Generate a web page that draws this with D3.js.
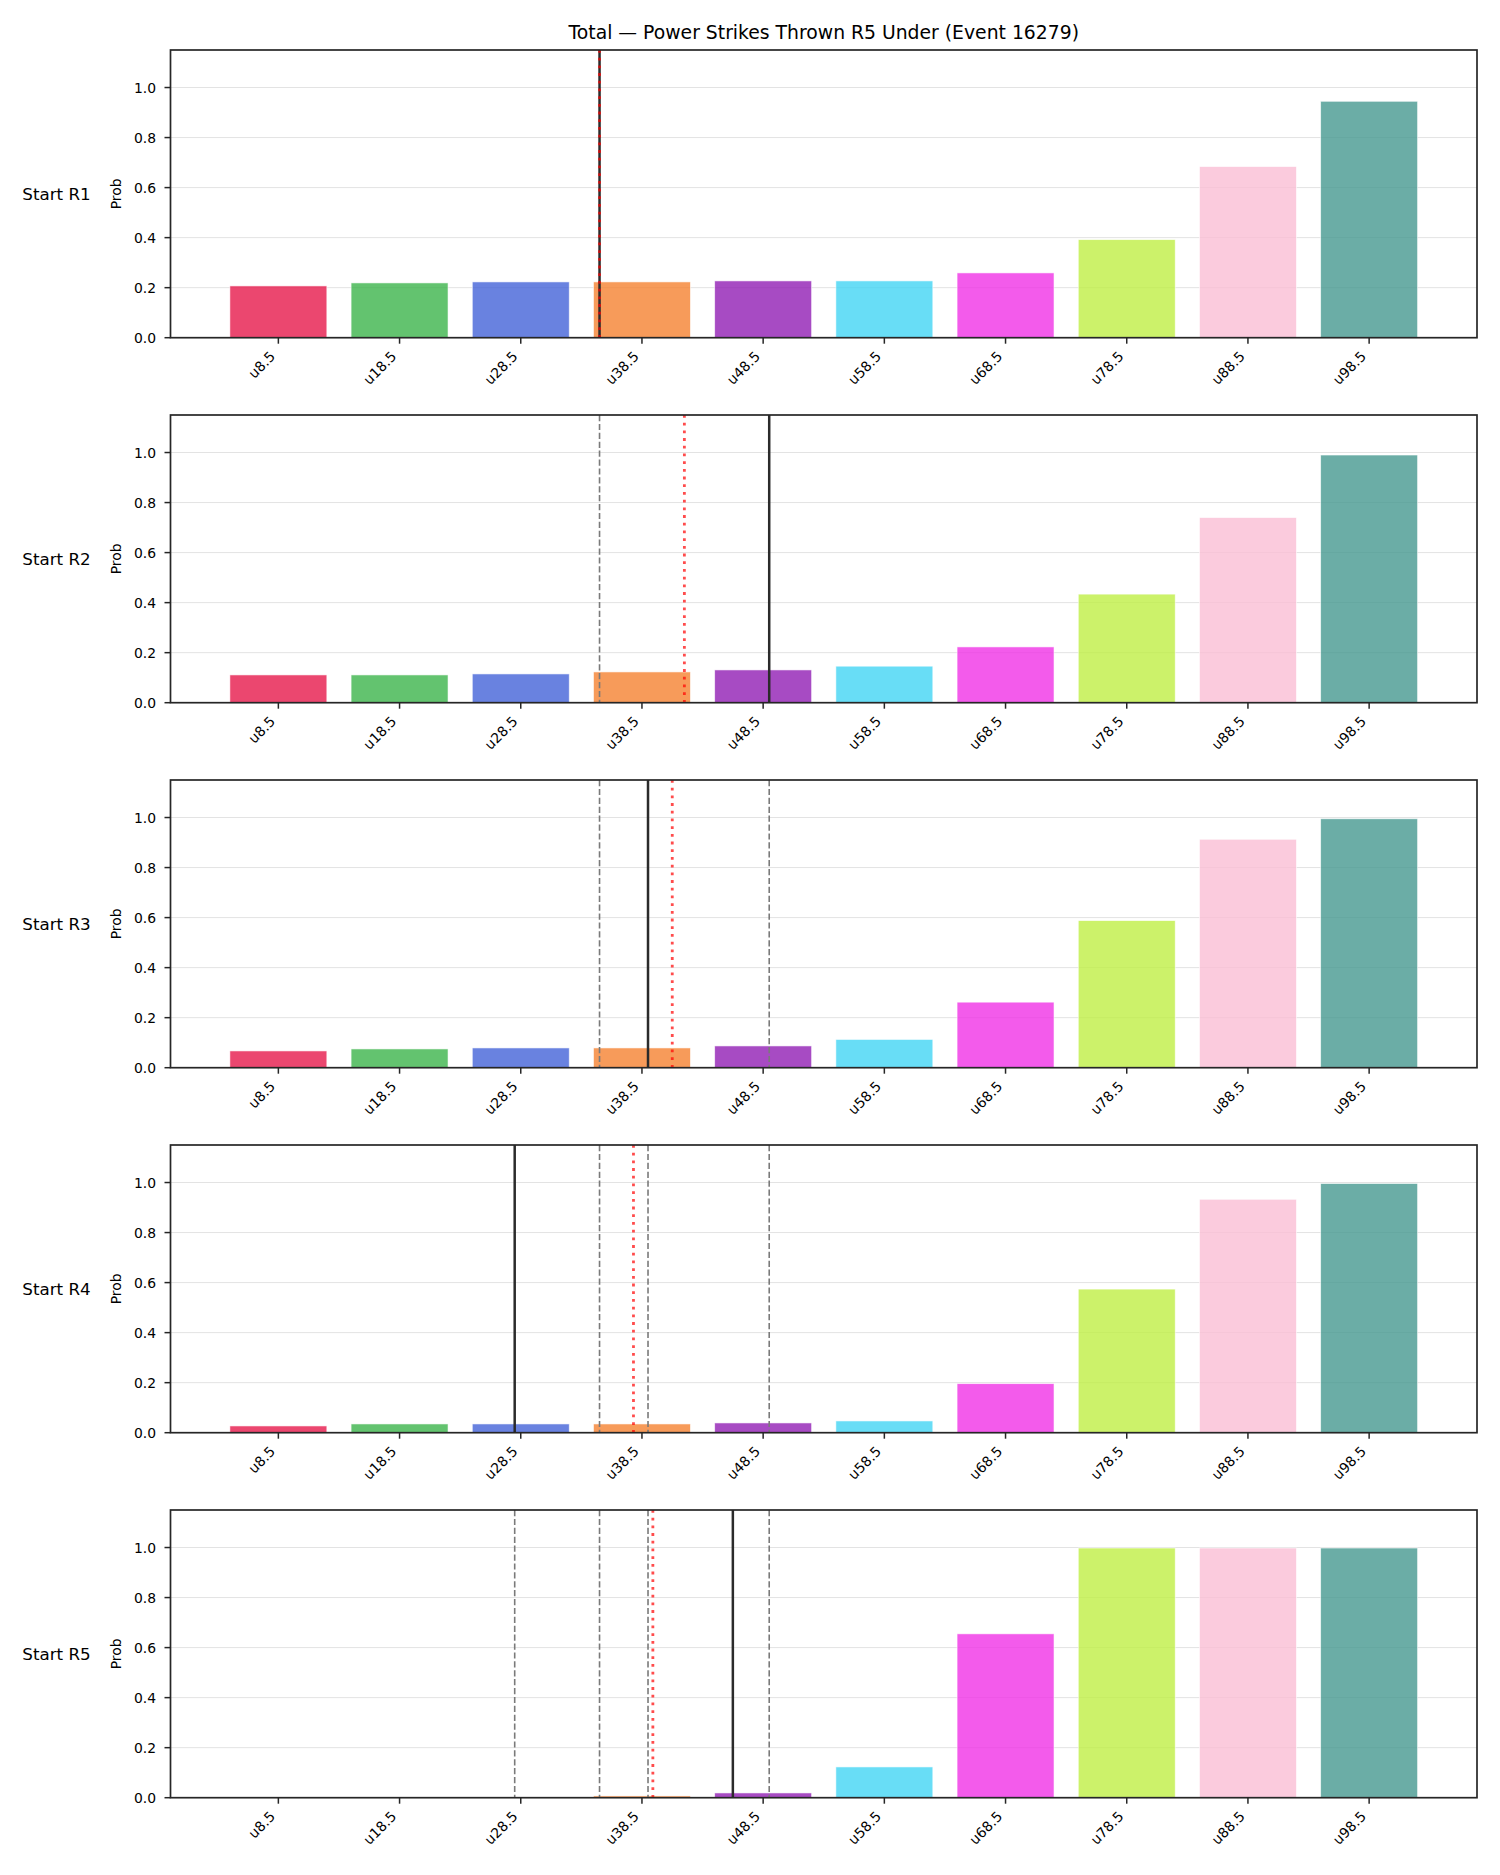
<!DOCTYPE html>
<html>
<head>
<meta charset="utf-8">
<script src="https://cdn.jsdelivr.net/npm/d3@7"></script>
<style>
  html, body { margin: 0; padding: 0; background: #fff; }
  svg { display: block; font-family: "DejaVu Sans", sans-serif; }
</style>
</head>
<body>
<svg id="chart" width="1500" height="1875"></svg>
<script>
// ---------------- data ----------------
const titleText = "Total \u2014 Power Strikes Thrown R5 Under (Event 16279)";
const categories = ["u8.5","u18.5","u28.5","u38.5","u48.5","u58.5","u68.5","u78.5","u88.5","u98.5"];
const lineValues = [8.5,18.5,28.5,38.5,48.5,58.5,68.5,78.5,88.5,98.5];
const rounds = ["Start R1","Start R2","Start R3","Start R4","Start R5"];
const probR1 = [0.207,0.219,0.223,0.223,0.227,0.227,0.259,0.392,0.684,0.945];
const probR2 = [0.111,0.111,0.115,0.123,0.131,0.146,0.223,0.434,0.740,0.990];
const probR3 = [0.067,0.075,0.079,0.079,0.087,0.113,0.262,0.588,0.913,0.995];
const probR4 = [0.027,0.035,0.035,0.035,0.039,0.047,0.196,0.574,0.933,0.996];
const probR5 = [0.000,0.001,0.002,0.007,0.019,0.123,0.655,0.998,0.998,0.998];
const actualLine = [35, 49, 39, 28, 46];          // black solid
const projectedLine = [35.0, 42.0, 41.0, 37.8, 39.4]; // red dotted
const priorLines = [[], [35], [35, 49], [35, 39, 49], [28, 35, 39, 49]]; // grey dashed
const yTicks = [0.0, 0.2, 0.4, 0.6, 0.8, 1.0];
const barColors = ["#e6194B","#3cb44b","#4363d8","#f58231","#911eb4","#42d4f4","#f032e6","#bfef45","#fabed4","#469990"];
const allProbs = [probR1, probR2, probR3, probR4, probR5];

// ---------------- layout ----------------
const svg = d3.select("#chart");
const left = 170.5, right = 1477;
const panelTop0 = 50, panelStep = 365, panelH = 287.7;

const x = d3.scaleLinear().domain([-0.89, 9.89]).range([left, right]);
const valueToIndex = v => (v - lineValues[0]) / (lineValues[1] - lineValues[0]);

svg.append("text")
  .attr("x", (left + right) / 2).attr("y", 38.5)
  .attr("text-anchor", "middle")
  .attr("font-size", "18.8px").attr("fill", "#000")
  .text(titleText);

rounds.forEach((rName, r) => {
  const top = panelTop0 + r * panelStep;
  const bottom = top + panelH;
  const y = d3.scaleLinear().domain([0, 1.15]).range([bottom, top]);
  const g = svg.append("g");
  const probs = allProbs[r];

  // grid
  g.selectAll(".grid").data(yTicks.filter(t => t > 0)).enter().append("line")
    .attr("x1", left).attr("x2", right)
    .attr("y1", d => y(d)).attr("y2", d => y(d))
    .attr("stroke", "#e3e3e3").attr("stroke-width", 1);

  // bars
  g.selectAll(".bar").data(probs).enter().append("rect")
    .attr("x", (d, i) => x(i - 0.4))
    .attr("width", (d, i) => x(i + 0.4) - x(i - 0.4))
    .attr("y", d => y(d))
    .attr("height", d => y(0) - y(d))
    .attr("fill", (d, i) => barColors[i])
    .attr("fill-opacity", 0.8)
    .attr("stroke", "#ffffff").attr("stroke-opacity", 0.7).attr("stroke-width", 0.8);

  // prior (dashed grey) lines
  g.selectAll(".prior").data(priorLines[r]).enter().append("line")
    .attr("x1", d => x(valueToIndex(d))).attr("x2", d => x(valueToIndex(d)))
    .attr("y1", top).attr("y2", bottom)
    .attr("stroke", "#7a7a7a").attr("stroke-width", 1.6)
    .attr("stroke-dasharray", "6.2,2.7");

  // actual (black solid)
  g.append("line")
    .attr("x1", x(valueToIndex(actualLine[r]))).attr("x2", x(valueToIndex(actualLine[r])))
    .attr("y1", top).attr("y2", bottom)
    .attr("stroke", "#2b2b2b").attr("stroke-width", 2.5);

  // projected (red dotted)
  g.append("line")
    .attr("x1", x(valueToIndex(projectedLine[r]))).attr("x2", x(valueToIndex(projectedLine[r])))
    .attr("y1", top).attr("y2", bottom)
    .attr("stroke", "#ff0000").attr("stroke-opacity", 0.7).attr("stroke-width", 2.8)
    .attr("stroke-dasharray", "2.8,4.9");

  // frame
  g.append("rect")
    .attr("x", left).attr("y", top).attr("width", right - left).attr("height", panelH)
    .attr("fill", "none").attr("stroke", "#262626").attr("stroke-width", 1.7);

  // y ticks
  yTicks.forEach(t => {
    g.append("line").attr("x1", left - 6).attr("x2", left)
      .attr("y1", y(t)).attr("y2", y(t))
      .attr("stroke", "#262626").attr("stroke-width", 1.5);
    g.append("text").attr("x", 156).attr("y", y(t)).attr("dy", "0.36em")
      .attr("text-anchor", "end").attr("font-size", "13.9px").attr("fill", "#000")
      .text(t.toFixed(1));
  });

  // x ticks
  categories.forEach((c, i) => {
    const tx = x(i);
    g.append("line").attr("x1", tx).attr("x2", tx)
      .attr("y1", bottom).attr("y2", bottom + 6)
      .attr("stroke", "#262626").attr("stroke-width", 1.5);
    const ax = tx - 11.4, ay = bottom + 10.5;
    g.append("text")
      .attr("transform", `translate(${ax},${ay}) rotate(-45)`)
      .attr("dy", "0.93em")
      .attr("text-anchor", "end").attr("font-size", "13.9px").attr("fill", "#000")
      .text(c);
  });

  // y label
  g.append("text")
    .attr("transform", `translate(120.5,${(top + bottom) / 2}) rotate(-90)`)
    .attr("text-anchor", "middle").attr("font-size", "13.9px").attr("fill", "#000")
    .text("Prob");

  // row label
  g.append("text")
    .attr("x", 56.5).attr("y", (top + bottom) / 2 + 6)
    .attr("text-anchor", "middle").attr("font-size", "16.7px").attr("fill", "#000")
    .text(rName);
});
</script>
</body>
</html>
